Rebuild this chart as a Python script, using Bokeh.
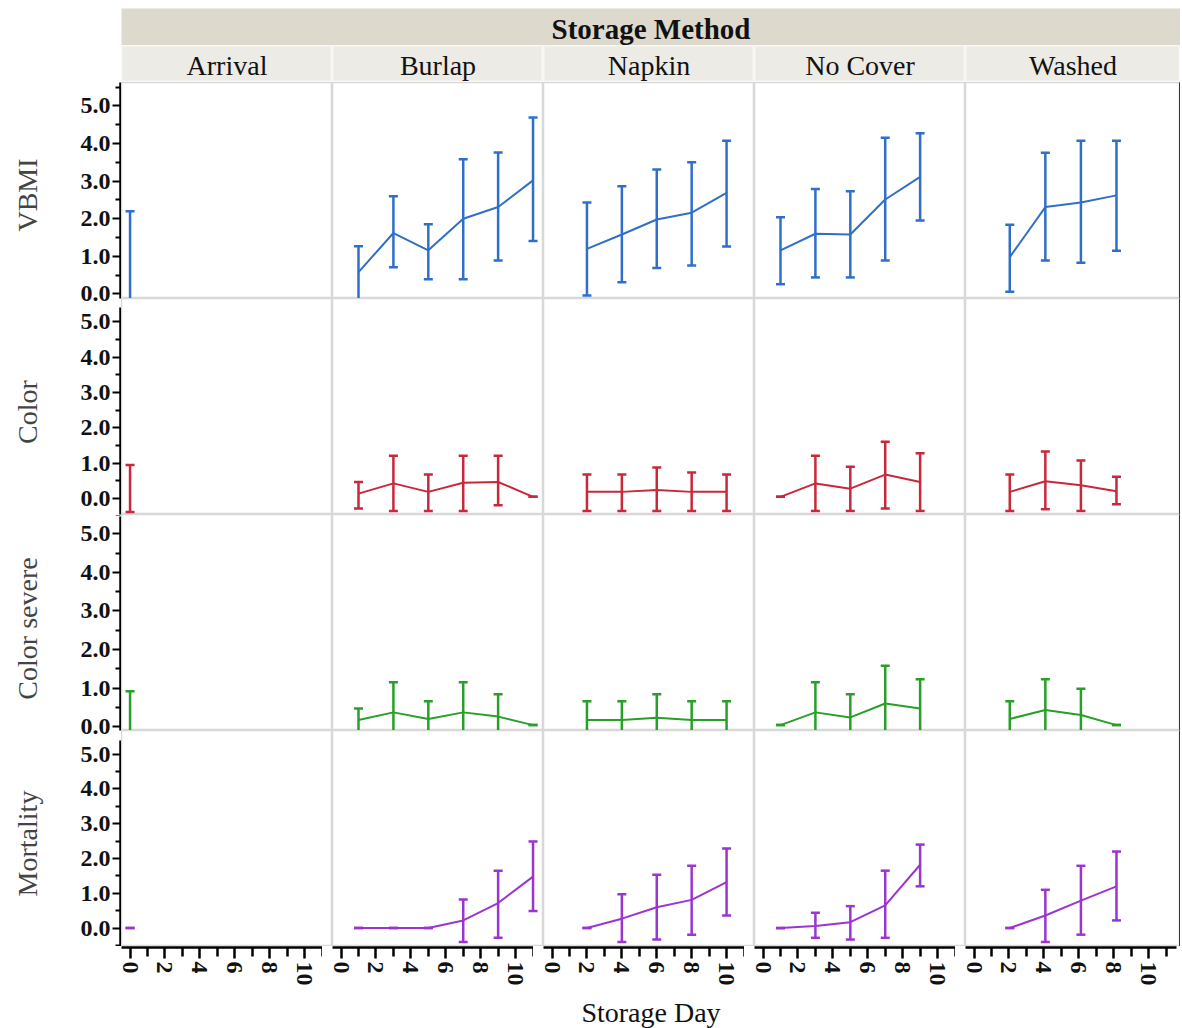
from bokeh.plotting import figure
from bokeh.layouts import row, column, Spacer
from bokeh.models import (Range1d, LinearAxis, Label, FixedTicker, NumeralTickFormatter,
                          ColumnDataSource)
from bokeh.embed import file_html
from bokeh.resources import INLINE

# ---------------- data ----------------
METHODS = ["Arrival", "Burlap", "Napkin", "No Cover", "Washed"]
METRICS = ["VBMI", "Color", "Color severe", "Mortality"]
DAYS = [[0], [1, 3, 5, 7, 9, 11], [2, 4, 6, 8, 10], [1, 3, 5, 7, 9], [2, 4, 6, 8]]

VBMI_MEAN = [[1.0], [0.58, 1.62, 1.16, 2.0, 2.31, 3.02], [1.2, 1.58, 1.98, 2.16, 2.69],
             [1.16, 1.6, 1.58, 2.51, 3.11], [0.98, 2.31, 2.43, 2.62]]
VBMI_LOW = [[-0.3], [-0.2, 0.71, 0.39, 0.39, 0.89, 1.41], [-0.04, 0.31, 0.69, 0.76, 1.26],
            [0.26, 0.44, 0.44, 0.89, 1.95], [0.06, 0.89, 0.83, 1.15]]
VBMI_HIGH = [[2.2], [1.27, 2.6, 1.85, 3.58, 3.76, 4.69], [2.43, 2.86, 3.31, 3.5, 4.07],
             [2.04, 2.79, 2.73, 4.15, 4.27], [1.84, 3.75, 4.07, 4.07]]

COLOR_MEAN = [[0.28], [0.14, 0.43, 0.19, 0.45, 0.47, 0.05], [0.19, 0.19, 0.24, 0.19, 0.19],
              [0.05, 0.43, 0.28, 0.68, 0.47], [0.19, 0.49, 0.38, 0.21]]
COLOR_LOW = [[-0.38], [-0.28, -0.35, -0.35, -0.35, -0.19, 0.05], [-0.35, -0.35, -0.35, -0.35, -0.35],
             [0.05, -0.35, -0.35, -0.28, -0.35], [-0.35, -0.3, -0.35, -0.16]]
COLOR_HIGH = [[0.95], [0.47, 1.21, 0.68, 1.21, 1.21, 0.05], [0.68, 0.68, 0.88, 0.74, 0.68],
              [0.05, 1.21, 0.9, 1.61, 1.28], [0.68, 1.33, 1.08, 0.62]]

SEV_MEAN = [[0.2], [0.17, 0.37, 0.2, 0.37, 0.26, 0.04], [0.17, 0.17, 0.23, 0.17, 0.17],
            [0.04, 0.37, 0.24, 0.6, 0.47], [0.2, 0.43, 0.3, 0.04]]
SEV_LOW = [[-0.52], [-0.13, -0.41, -0.26, -0.41, -0.32, 0.04], [-0.32, -0.32, -0.38, -0.32, -0.32],
           [0.04, -0.41, -0.36, -0.38, -0.29], [-0.26, -0.37, -0.38, 0.04]]
SEV_HIGH = [[0.92], [0.47, 1.15, 0.66, 1.15, 0.84, 0.04], [0.66, 0.66, 0.84, 0.66, 0.66],
            [0.04, 1.15, 0.84, 1.58, 1.23], [0.66, 1.23, 0.98, 0.04]]

MORT_MEAN = [[0.0], [0.0, 0.0, 0.0, 0.22, 0.72, 1.48], [0.0, 0.27, 0.6, 0.81, 1.32],
             [0.0, 0.06, 0.17, 0.65, 1.82], [0.0, 0.36, 0.79, 1.2]]
MORT_LOW = [[0.0], [0.0, 0.0, 0.0, -0.4, -0.28, 0.49], [0.0, -0.4, -0.33, -0.19, 0.36],
            [0.0, -0.28, -0.33, -0.28, 1.2], [0.0, -0.4, -0.19, 0.22]]
MORT_HIGH = [[0.0], [0.0, 0.0, 0.0, 0.82, 1.65, 2.49], [0.0, 0.97, 1.53, 1.79, 2.29],
             [0.0, 0.44, 0.63, 1.65, 2.4], [0.0, 1.1, 1.79, 2.2]]

Y_TICKS = [0, 1, 2, 3, 4, 5]
Y_MINOR = [-0.5, 0.5, 1.5, 2.5, 3.5, 4.5, 5.5]
X_TICKS = [0, 2, 4, 6, 8, 10]
X_MINOR = [1, 3, 5, 7, 9, 11]

# ---------------- style / layout ----------------
MEANS = [VBMI_MEAN, COLOR_MEAN, SEV_MEAN, MORT_MEAN]
LOWS = [VBMI_LOW, COLOR_LOW, SEV_LOW, MORT_LOW]
HIGHS = [VBMI_HIGH, COLOR_HIGH, SEV_HIGH, MORT_HIGH]
ROW_COLORS = ["#2f6fca", "#c8283a", "#28a028", "#9a35d0"]
ROW_RANGES = [(-0.12, 5.62), (-0.45, 5.66), (-0.1, 5.5), (-0.53, 5.68)]
X_RANGE = (-0.49, 11.6)
FONT = "Liberation Serif"
PANEL_W = 211
PANEL_H = 216
LEFT = 121
RIGHT_PAD = 4
BOTTOM_AXIS = 50
SEP = "#d8d8d8"
# pixel offsets (from the top of the panel grid) where the left tick-label strips
# are split, chosen in the gaps between neighbouring labels
AXIS_SPLITS = [0, 225, 434, 658, 864]
X_SPLIT_SHIFT = 10   # bottom tick-label strips start this many px left of each panel


def blank(width, height, bg):
    f = figure(width=width, height=height, x_range=Range1d(0, 1), y_range=Range1d(0, 1),
               toolbar_location=None, output_backend="svg", x_axis_location=None,
               y_axis_location=None, min_border=0, background_fill_color=bg,
               border_fill_color=bg, outline_line_color=None)
    f.grid.visible = False
    return f


# ---------------- header ----------------
method_fig = blank(PANEL_W * 5 + RIGHT_PAD, 37, "#dddacd")
method_fig.add_layout(Label(x=0.5, y=0.45, text="Storage Method", text_align="center",
                            text_baseline="middle", text_font=FONT, text_font_style="bold",
                            text_font_size="29px", text_color="#111111"))
sub_figs = []
for c, m in enumerate(METHODS):
    w = PANEL_W + (RIGHT_PAD if c == 4 else 0)
    f = blank(w, 37, "#ecebe5")
    f.outline_line_color = "#f7f7f3"
    f.outline_line_width = 2
    f.add_layout(Label(x=0.5, y=0.45, text=m, text_align="center", text_baseline="middle",
                       text_font=FONT, text_font_size="28px", text_color="#111111"))
    sub_figs.append(f)

header = column(Spacer(width=1182, height=8),
                row(Spacer(width=LEFT, height=74),
                    column(method_fig, row(*sub_figs))))

# ---------------- left axis strips ----------------
axis_figs = []
for r, metric in enumerate(METRICS):
    lo, hi = ROW_RANGES[r]
    per_px = (hi - lo) / PANEL_H
    top_px, bot_px = AXIS_SPLITS[r], AXIS_SPLITS[r + 1]
    v_top = hi - (top_px - PANEL_H * r) * per_px
    v_bot = hi - (bot_px - PANEL_H * r) * per_px
    a = figure(width=LEFT, height=bot_px - top_px, x_range=Range1d(0, 1),
               y_range=Range1d(v_bot, v_top), toolbar_location=None, output_backend="svg",
               x_axis_location=None, y_axis_location=None, min_border_left=LEFT - 1,
               min_border_right=0, min_border_top=0, min_border_bottom=0,
               outline_line_color=None, background_fill_alpha=0, border_fill_alpha=0)
    a.grid.visible = False
    ax = LinearAxis(ticker=FixedTicker(ticks=Y_TICKS, minor_ticks=Y_MINOR),
                    formatter=NumeralTickFormatter(format="0.0"), axis_label=metric,
                    bounds=(lo, hi))
    ax.axis_line_width = 2.5
    ax.axis_line_color = "black"
    ax.major_tick_line_width = 2
    ax.minor_tick_line_width = 2
    ax.major_tick_out = 8
    ax.major_tick_in = 0
    ax.minor_tick_out = 5
    ax.minor_tick_in = 0
    ax.major_label_standoff = 2
    ax.major_label_text_font = FONT
    ax.major_label_text_font_size = "24px"
    ax.major_label_text_font_style = "bold"
    ax.major_label_text_color = "#111111"
    ax.axis_label_text_font = FONT
    ax.axis_label_text_font_size = "28px"
    ax.axis_label_text_font_style = "normal"
    ax.axis_label_standoff = 35
    a.add_layout(ax, "left")
    axis_figs.append(a)
axis_col = column(*axis_figs)

# ---------------- panels ----------------
grid_rows = []
for r, metric in enumerate(METRICS):
    figs = []
    for c, method in enumerate(METHODS):
        last_col = c == 4
        w = PANEL_W + (RIGHT_PAD if last_col else 0)
        p = figure(width=w, height=PANEL_H, x_range=Range1d(*X_RANGE), y_range=Range1d(*ROW_RANGES[r]),
                   output_backend="svg", toolbar_location=None, x_axis_location=None,
                   y_axis_location=None, min_border=0,
                   background_fill_color="white", border_fill_color="white")
        p.grid.visible = False
        p.outline_line_color = SEP
        p.outline_line_width = 1.5

        if last_col:
            rax = LinearAxis(ticker=FixedTicker(ticks=[]), major_label_text_font_size="0px")
            rax.axis_line_color = "black"
            rax.axis_line_width = 2.5
            rax.major_tick_line_color = None
            rax.minor_tick_line_color = None
            p.add_layout(rax, "right")

        src = ColumnDataSource(dict(day=DAYS[c], mean=MEANS[r][c], low=LOWS[r][c], high=HIGHS[r][c]))
        col = ROW_COLORS[r]
        p.line("day", "mean", source=src, line_color=col, line_width=2)
        p.segment(x0="day", y0="low", x1="day", y1="high", source=src, line_color=col, line_width=2.5)
        p.scatter("day", "high", source=src, marker="dash", size=9, line_color=col, line_width=2.5)
        p.scatter("day", "low", source=src, marker="dash", size=9, line_color=col, line_width=2.5)
        figs.append(p)
    grid_rows.append(row(*figs))

panels = column(*grid_rows)
body = row(axis_col, panels)

# ---------------- bottom axis strips ----------------
upp = (X_RANGE[1] - X_RANGE[0]) / PANEL_W
x_strips = []
for c, method in enumerate(METHODS):
    wk = PANEL_W + (RIGHT_PAD + X_SPLIT_SHIFT if c == 4 else 0)
    xs = X_RANGE[0] - X_SPLIT_SHIFT * upp
    xe = xs + wk * upp
    s = figure(width=wk, height=BOTTOM_AXIS, x_range=Range1d(xs, xe), y_range=Range1d(0, 1),
               toolbar_location=None, output_backend="svg", x_axis_location=None,
               y_axis_location=None, min_border_left=0, min_border_right=0, min_border_top=0,
               min_border_bottom=BOTTOM_AXIS - 1, outline_line_color=None,
               background_fill_alpha=0, border_fill_alpha=0)
    s.grid.visible = False
    bx = LinearAxis(ticker=FixedTicker(ticks=X_TICKS, minor_ticks=X_MINOR), bounds=X_RANGE)
    bx.axis_line_width = 2.5
    bx.axis_line_color = "black"
    bx.major_tick_line_width = 2.5
    bx.minor_tick_line_width = 2.5
    bx.major_tick_out = 11
    bx.major_tick_in = 0
    bx.minor_tick_out = 9
    bx.minor_tick_in = 0
    bx.major_label_orientation = "vertical"
    bx.major_label_standoff = 3
    bx.major_label_text_font = FONT
    bx.major_label_text_font_size = "24px"
    bx.major_label_text_font_style = "bold"
    bx.major_label_text_color = "#111111"
    s.add_layout(bx, "below")
    x_strips.append(s)
x_axis_row = row(Spacer(width=LEFT - X_SPLIT_SHIFT, height=BOTTOM_AXIS), *x_strips)

foot = blank(PANEL_W * 5 + RIGHT_PAD, 32, "white")
foot.add_layout(Label(x=0.5, y=0.5, text="Storage Day", text_align="center", text_baseline="middle",
                      text_font=FONT, text_font_size="28px", text_color="#111111"))
footer = row(Spacer(width=LEFT, height=32), foot)

layout = column(header, body, x_axis_row, footer)

with open("out.html", "w") as fh:
    fh.write(file_html(layout, INLINE, title="Storage Method"))
